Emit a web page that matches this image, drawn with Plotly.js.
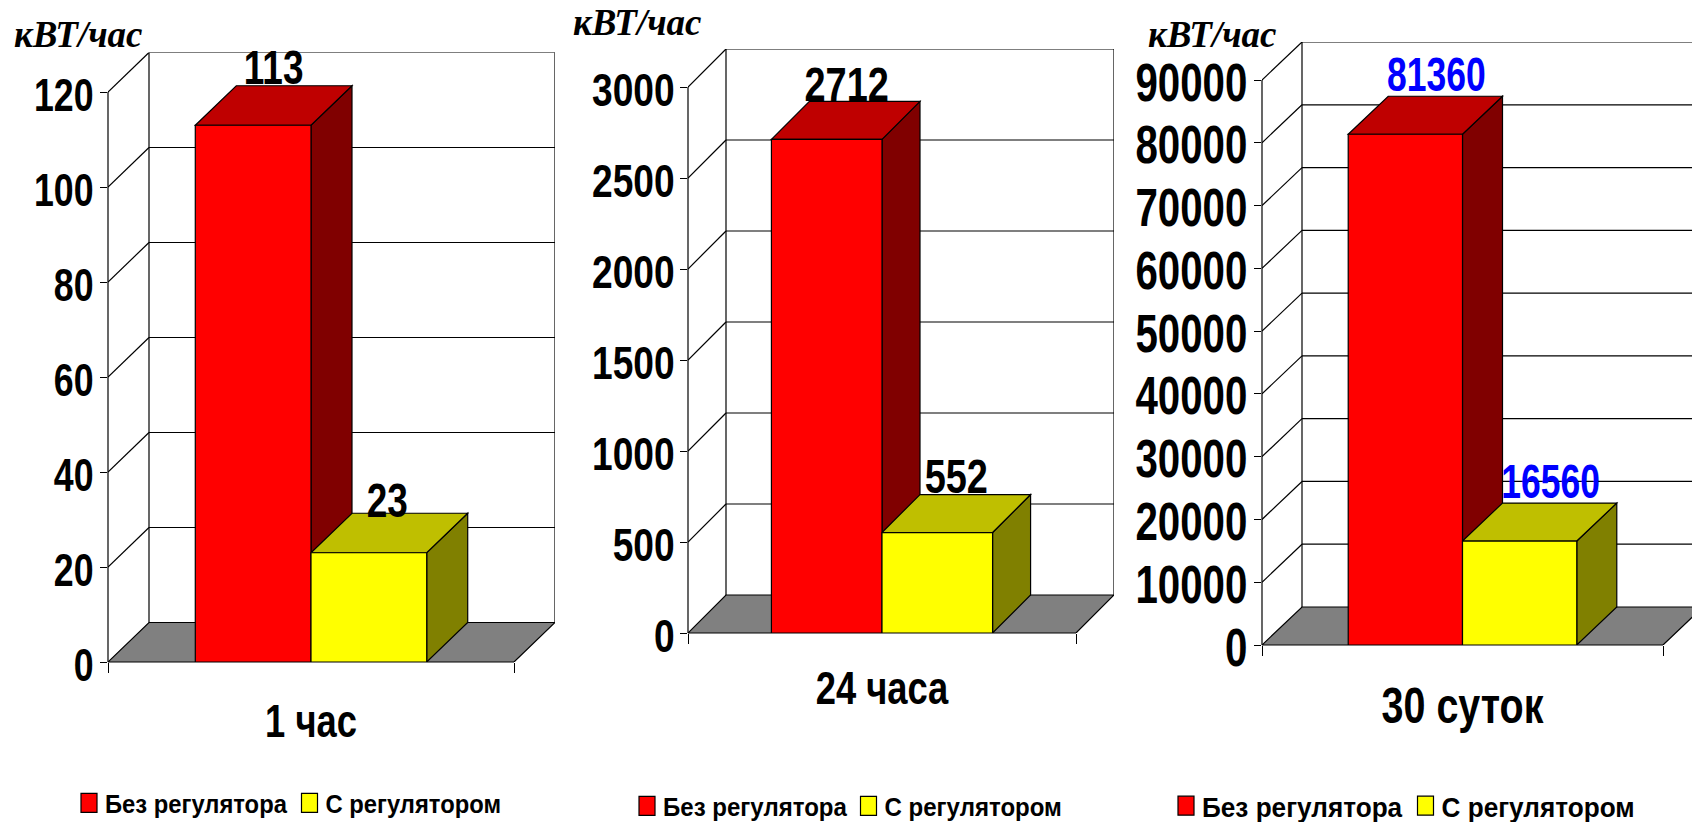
<!DOCTYPE html>
<html>
<head>
<meta charset="utf-8">
<script src="https://cdn.plot.ly/plotly-3.0.1.min.js"></script>
<style>html,body{margin:0;padding:0;background:#fff;overflow:hidden}</style>
</head>
<body>
<div id="chart" style="width:1692px;height:822px"></div>
<script>
// --- data ---
const categories = ['1 час', '24 часа', '30 суток'];
const seriesNames = ['Без регулятора', 'С регулятором'];
const withoutRegulator = [113, 2712, 81360];
const withRegulator = [23, 552, 16560];
const ticks1 = [0, 20, 40, 60, 80, 100, 120];
const ticks2 = [0, 500, 1000, 1500, 2000, 2500, 3000];
const ticks3 = [0, 10000, 20000, 30000, 40000, 50000, 60000, 70000, 80000, 90000];
const unitLabel = 'кВТ/час';

// --- layout geometry (pixels of the page) ---
const PW = 1692, PH = 822;
const SANS = '"Liberation Sans",Arial,sans-serif';
const panels = [
  {ticks: ticks1, left: 108, right: 514, end: 555, zero: 662, topTick: 92, dx: 41, dy: 39.5,
   tickFont: 47, tickSx: .76, tickTx: 3, tickTy: 3, catFont: 46, catSx: .79, catTy: 0, labelFont: 48, labelSx: .77, labelColor: '#000000',
   labelShift: [[0, 1], [-2, 7]],
   unitX: 78, unitY: 48, legX: 69, legY: 803, legFont: 26, legSx: .915, entry: 175.5},
  {ticks: ticks2, left: 688, right: 1076, end: 1114, zero: 633, topTick: 87, dx: 38, dy: 38,
   tickFont: 47, tickSx: .79, tickTx: 4, tickTy: 3, catFont: 46, catSx: .79, catTy: -4, labelFont: 48, labelSx: .79, labelColor: '#000000',
   labelShift: [[1, 3], [0, 1]],
   unitX: 637, unitY: 36, legX: 627, legY: 806, legFont: 26, legSx: .925, entry: 176.5},
  {ticks: ticks3, left: 1262, right: 1663, end: 1692, zero: 645, topTick: 80, dx: 40, dy: 38,
   tickFont: 53, tickSx: .76, tickTx: 4, tickTy: 2, catFont: 50, catSx: .79, catTy: -1, labelFont: 48, labelSx: .74, labelColor: '#0000FF',
   labelShift: [[11, -2], [11, -2]],
   unitX: 1212, unitY: 48, legX: 1166, legY: 806, legFont: 28, legSx: .935, entry: 194.5}
];
const BARGAP = 0.43;
const LABEL_DROP = 9;
const COL = {red: '#FF0000', redTop: '#BF0000', redSide: '#800000',
             yel: '#FFFF00', yelTop: '#BFBF00', yelSide: '#808000', floor: '#808080'};

const traces = [], shapes = [], annotations = [], layout = {};
const ln = {color: '#000000', width: 1.2};

panels.forEach((p, i) => {
  const n = i === 0 ? '' : String(i + 1);
  const xa = 'x' + n, ya = 'y' + n;
  const topV = p.ticks[p.ticks.length - 1];
  const pxPerV = (p.zero - p.topTick) / topV;
  const pxPerX = p.right - p.left;
  const dX = p.dx / pxPerX, dY = p.dy / pxPerV;
  const xMax = 0.5 + (p.end - p.right) / pxPerX;
  const a = withoutRegulator[i], b = withRegulator[i];
  const g = 1 - BARGAP;
  const line = (x0, y0, x1, y1) => shapes.push({type: 'line', layer: 'below', xref: xa, yref: ya, x0, y0, x1, y1, line: ln});
  const poly = (pts, fill) => shapes.push({type: 'path', layer: 'below', xref: xa, yref: ya, fillcolor: fill, line: ln,
    path: 'M' + pts.map(q => q[0] + ',' + q[1]).join('L') + 'Z'});

  // floor
  poly([[-0.5, 0], [-0.5 + dX, dY], [0.5 + dX, dY], [0.5, 0]], COL.floor);
  // back wall and side wall lines
  p.ticks.forEach(t => {
    if (t > 0) line(-0.5, t, -0.5 + dX, t + dY);
    if (t > 0) line(-0.5 + dX, t + dY, 0.5 + dX, t + dY);
  });
  line(-0.5 + dX, dY, -0.5 + dX, topV + dY);
  line(0.5 + dX, dY, 0.5 + dX, topV + dY);
  // axis lines (not clipped across the axis)
  shapes.push({type: 'line', layer: 'below', xref: 'paper', yref: ya, x0: p.left / PW, x1: p.left / PW, y0: 0, y1: topV, line: ln});
  shapes.push({type: 'line', layer: 'below', xref: xa, yref: 'paper', x0: -0.5, x1: 0.5, y0: 1 - p.zero / PH, y1: 1 - p.zero / PH, line: ln});
  // faces of the red box
  poly([[0, 0], [dX, dY], [dX, a + dY], [0, a]], COL.redSide);
  poly([[-g / 2, a], [-g / 2 + dX, a + dY], [dX, a + dY], [0, a]], COL.redTop);
  // faces of the yellow box
  poly([[g / 2, 0], [g / 2 + dX, dY], [g / 2 + dX, b + dY], [g / 2, b]], COL.yelSide);
  poly([[0, b], [dX, b + dY], [g / 2 + dX, b + dY], [g / 2, b]], COL.yelTop);

  const legendId = 'legend' + n;
  traces.push({type: 'bar', x: [0], y: [a], name: seriesNames[0], xaxis: xa, yaxis: ya, legend: legendId,
    marker: {color: COL.red, line: {color: '#000', width: 1.2}}});
  traces.push({type: 'bar', x: [0], y: [b], name: seriesNames[1], xaxis: xa, yaxis: ya, legend: legendId,
    marker: {color: COL.yel, line: {color: '#000', width: 1.2}}});
  const drop = LABEL_DROP / pxPerV;
  traces.push({type: 'scatter', mode: 'text', x: [-g / 4 + dX / 2, g / 4 + dX / 2], y: [a + dY - drop, b + dY - drop],
    text: [String(a), String(b)], textposition: 'top center', cliponaxis: false, showlegend: false, hoverinfo: 'skip',
    textfont: {family: SANS, size: p.labelFont, color: p.labelColor, weight: 700}, xaxis: xa, yaxis: ya});

  layout['xaxis' + n] = {
    domain: [p.left / PW, p.end / PW], range: [-0.5, xMax], anchor: ya, type: 'linear', zeroline: false, showgrid: false, showline: false,
    tickmode: 'array', tickvals: [0], ticktext: [categories[i]], ticks: '', ticklabelstandoff: 28,
    tickfont: {family: SANS, size: p.catFont, color: '#000', weight: 700},
    minor: {tickmode: 'array', tickvals: [-0.5, 0.5], ticks: 'outside', ticklen: 10, tickwidth: 1.2, tickcolor: '#000', showgrid: false}
  };
  layout['yaxis' + n] = {
    domain: [1 - p.zero / PH, 1 - (p.topTick - p.dy) / PH], range: [0, topV + dY], anchor: xa, zeroline: false, showgrid: false, showline: false,
    tickmode: 'array', tickvals: p.ticks, ticktext: p.ticks.map(String), ticks: 'outside', ticklen: 7, tickwidth: 1.2, tickcolor: '#000',
    ticklabelstandoff: 0,
    tickfont: {family: SANS, size: p.tickFont, color: '#000', weight: 700}
  };
  layout[legendId] = {
    orientation: 'h', x: p.legX / PW, xanchor: 'left', y: 1 - p.legY / PH, yanchor: 'middle', bgcolor: 'rgba(0,0,0,0)', borderwidth: 0,
    entrywidth: p.entry, entrywidthmode: 'pixels', traceorder: 'normal', itemclick: false, itemdoubleclick: false,
    font: {family: SANS, size: p.legFont, color: '#000', weight: 700}
  };
  annotations.push({xref: 'paper', yref: 'paper', x: p.unitX / PW, y: 1 - p.unitY / PH, xanchor: 'center', yanchor: 'bottom', showarrow: false,
    text: unitLabel, borderpad: 0, yshift: -8,
    font: {family: '"Liberation Serif","Times New Roman",serif', size: 37, color: '#000', weight: 700, style: 'italic'}});
});

Object.assign(layout, {
  width: PW, height: PH, margin: {l: 0, r: 0, t: 0, b: 0, pad: 0, autoexpand: false}, paper_bgcolor: '#fff', plot_bgcolor: 'rgba(0,0,0,0)',
  barmode: 'group', bargap: BARGAP, bargroupgap: 0, showlegend: true, shapes, annotations, hovermode: false
});

// The reference type is a horizontally condensed Arial: narrow each drawn label about its anchor.
function squeeze(el, sx, tx, ty) {
  const ax = parseFloat(el.getAttribute('x')) || 0;
  const old = el.getAttribute('transform') || '';
  el.setAttribute('transform', `${old} translate(${tx},${ty}) translate(${ax},0) scale(${sx},1) translate(${-ax},0)`);
}
Plotly.newPlot('chart', traces, layout, {displayModeBar: false, responsive: false}).then(() => {
  document.querySelectorAll('.legendpoints path').forEach(el => el.setAttribute('d', 'M8,9.5H-8V-9.5H8Z'));
  panels.forEach((p, i) => {
    const n = i === 0 ? '' : String(i + 1);
    const sub = '.subplot.' + (i === 0 ? 'xy' : 'x' + n + 'y' + n);
    document.querySelectorAll(`.legend${n}text`).forEach(el => squeeze(el, p.legSx, -4, 0));
    document.querySelectorAll(`.y${n}tick text`).forEach(el => squeeze(el, p.tickSx, p.tickTx, p.tickTy));
    document.querySelectorAll(`.x${n}tick text`).forEach(el => squeeze(el, p.catSx, 0, p.catTy));
    document.querySelectorAll(sub + ' .textpoint text').forEach((el, k) => squeeze(el, p.labelSx, p.labelShift[k][0], p.labelShift[k][1]));
  });
});
</script>
</body>
</html>
